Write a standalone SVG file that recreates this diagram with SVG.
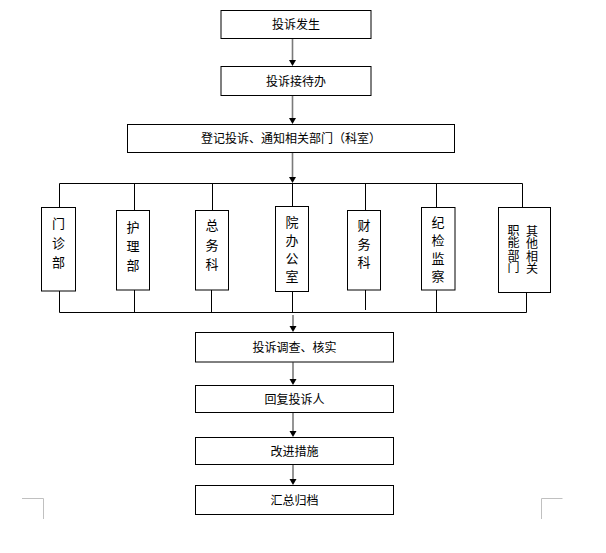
<svg xmlns="http://www.w3.org/2000/svg" width="606" height="553" viewBox="0 0 606 553">
<style>
.box{fill:#fff;stroke:#000;stroke-width:1}
.t{font-family:"Noto Sans CJK SC","Noto Sans CJK JP",sans-serif;font-size:12px;fill:#000;text-anchor:middle}
.v{font-family:"Noto Sans CJK SC","Noto Sans CJK JP",sans-serif;font-size:13px;fill:#000;text-anchor:middle}
.vr{font-family:"Noto Sans CJK SC","Noto Sans CJK JP",sans-serif;font-size:12px;fill:#000;writing-mode:vertical-rl;text-anchor:start;letter-spacing:0.5px}
.bus{fill:none;stroke:#000;stroke-width:1}
.ln{stroke:#7a7a7a;stroke-width:1.6}
.crop{fill:none;stroke:#c0c0c0;stroke-width:1}
</style>
<rect width="606" height="553" fill="#fff"/>

<g id="connectors">
<path class="bus" d="M59.5,183.5 H522.5 M59.5,183.5 V207 M134.5,183.5 V210 M212.5,183.5 V210 M292.5,183.5 V206 M365.5,183.5 V210 M436.5,183.5 V207 M522.5,183.5 V207"/>
<path class="bus" d="M59.5,312.5 H526.5 M59.5,291 V312.5 M134.5,290 V312.5 M211.5,290 V312.5 M292.5,291 V312.5 M365.5,290 V310 M436.5,290 V312.5 M526.5,292 V312.5"/>
<line class="ln" x1="292.5" y1="38.5" x2="292.5" y2="62"/>
<path d="M289,60 H296 L292.5,66 Z"/>
<line class="ln" x1="292.5" y1="95.7" x2="292.5" y2="120"/>
<path d="M289,118 H296 L292.5,124 Z"/>
<line class="ln" x1="292.5" y1="152.7" x2="292.5" y2="179"/>
<path d="M289,177 H296 L292.5,183 Z"/>
<line class="ln" x1="293" y1="315" x2="293" y2="328"/>
<path d="M289.5,326 H296.5 L293,332 Z"/>
<line class="ln" x1="293" y1="362.3" x2="293" y2="381"/>
<path d="M289.5,379 H296.5 L293,385 Z"/>
<line class="ln" x1="293" y1="412.3" x2="293" y2="433"/>
<path d="M289.5,431 H296.5 L293,437 Z"/>
<line class="ln" x1="293" y1="464.3" x2="293" y2="481"/>
<path d="M289.5,479 H296.5 L293,485 Z"/>
</g>

<g id="n1"><rect class="box" x="221" y="10.5" width="150" height="28"/><text class="t" x="296" y="29">投诉发生</text></g>
<g id="n2"><rect class="box" x="221" y="66.5" width="150" height="29"/><text class="t" x="296" y="85.5">投诉接待办</text></g>
<g id="n3"><rect class="box" x="127.5" y="124.5" width="327" height="28"/><text class="t" x="291" y="143">登记投诉、通知相关部门（科室）</text></g>

<g id="d1"><rect class="box" x="41.5" y="207.5" width="34" height="83.5"/><text class="v" x="58.5"><tspan x="58.5" y="228">门</tspan><tspan x="58.5" y="247.5">诊</tspan><tspan x="58.5" y="267">部</tspan></text></g>
<g id="d2"><rect class="box" x="116.5" y="210.5" width="33" height="79.5"/><text class="v" x="133"><tspan x="133" y="232">护</tspan><tspan x="133" y="251">理</tspan><tspan x="133" y="270">部</tspan></text></g>
<g id="d3"><rect class="box" x="195.5" y="210.5" width="33" height="79.5"/><text class="v" x="212"><tspan x="212" y="230">总</tspan><tspan x="212" y="250">务</tspan><tspan x="212" y="269">科</tspan></text></g>
<g id="d4"><rect class="box" x="275.5" y="206.5" width="33" height="85"/><text class="v" x="292"><tspan x="292" y="227">院</tspan><tspan x="292" y="245">办</tspan><tspan x="292" y="263">公</tspan><tspan x="292" y="281">室</tspan></text></g>
<g id="d5"><rect class="box" x="347.5" y="210.5" width="33" height="79.5"/><text class="v" x="364"><tspan x="364" y="230">财</tspan><tspan x="364" y="248.5">务</tspan><tspan x="364" y="267">科</tspan></text></g>
<g id="d6"><rect class="box" x="421.5" y="207.5" width="33.5" height="82.5"/><text class="v" x="438"><tspan x="438" y="227">纪</tspan><tspan x="438" y="245">检</tspan><tspan x="438" y="263">监</tspan><tspan x="438" y="281">察</tspan></text></g>
<g id="d7"><rect class="box" x="498.5" y="207.5" width="52" height="85"/>
<text class="vr" x="532" y="225">其他相关</text>
<text class="vr" x="513.5" y="224">职能部门</text></g>

<g id="n4"><rect class="box" x="195.5" y="332.5" width="198" height="29.5"/><text class="t" x="294.5" y="351.5">投诉调查、核实</text></g>
<g id="n5"><rect class="box" x="195.5" y="385.5" width="198" height="27"/><text class="t" x="294.5" y="403.5">回复投诉人</text></g>
<g id="n6"><rect class="box" x="195.5" y="437.5" width="198" height="27"/><text class="t" x="294.5" y="455.5">改进措施</text></g>
<g id="n7"><rect class="box" x="195.5" y="485.5" width="198" height="29"/><text class="t" x="294.5" y="504.5">汇总归档</text></g>

<path class="crop" d="M22,498.5 H43.5 V519 M562.5,498.5 H541.5 V519"/>
</svg>
